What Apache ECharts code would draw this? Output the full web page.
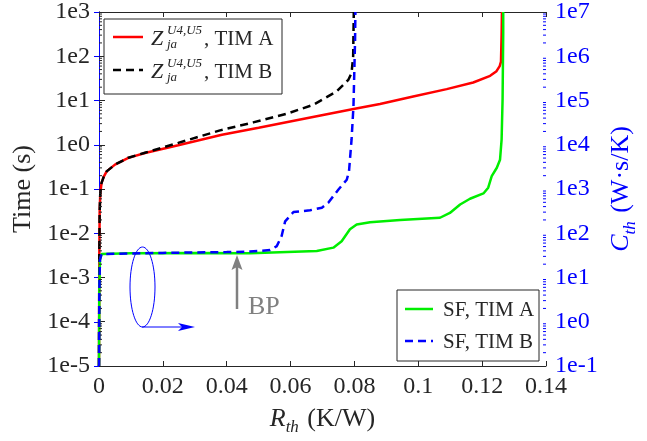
<html>
<head>
<meta charset="utf-8">
<title>Rth - time / Cth</title>
<script src="https://cdn.jsdelivr.net/npm/echarts@6/dist/echarts.min.js"></script>
</head>
<body style="margin:0">
<div id="main" style="width:647px;height:441px;"></div>
<script type="text/javascript">
// ---- data ----
var xTickLabels = ['0', '0.02', '0.04', '0.06', '0.08', '0.1', '0.12', '0.14'];
var leftTickLabels = ['1e-5', '1e-4', '1e-3', '1e-2', '1e-1', '1e0', '1e1', '1e2', '1e3'];
var rightTickLabels = ['1e-1', '1e0', '1e1', '1e2', '1e3', '1e4', '1e5', '1e6', '1e7'];

// Z_ja TIM A  [Rth, time]
var zTimA = [
  [0, 1e-5], [0.0001, 0.003], [0.0002, 0.03], [0.0004, 0.08], [0.0008, 0.138],
  [0.0015, 0.19], [0.0024, 0.25], [0.005, 0.356], [0.0092, 0.505], [0.0144, 0.653],
  [0.0248, 0.97], [0.0385, 1.69], [0.05, 2.43], [0.065, 3.96], [0.0797, 6.4],
  [0.088, 8.3], [0.0984, 12.3], [0.1089, 18.1], [0.1172, 25.5], [0.1225, 36.1],
  [0.1245, 46], [0.1255, 60], [0.1259, 75.9], [0.1261, 316], [0.1262, 1000]
];
// Z_ja TIM B  [Rth, time]
var zTimB = [
  [0, 1e-5], [0.0001, 0.003], [0.0002, 0.03], [0.0004, 0.08], [0.0008, 0.138],
  [0.0015, 0.19], [0.0024, 0.25], [0.005, 0.356], [0.0092, 0.51], [0.0144, 0.66],
  [0.0248, 1.10], [0.0379, 2.11], [0.0483, 3.2], [0.0588, 5.02], [0.0671, 8.0],
  [0.0744, 16.0], [0.0781, 29.4], [0.0791, 41.7], [0.0796, 100], [0.0798, 1000]
];
// SF TIM A  [Rth, Cth]
var sfTimA = [
  [0, 0.1], [0.0001, 5], [0.0003, 25], [0.0008, 34], [0.01, 35.5], [0.03, 35.8],
  [0.0473, 35.2], [0.0682, 39.8], [0.0734, 47.3], [0.076, 66], [0.0786, 123],
  [0.0807, 158], [0.0849, 178], [0.0943, 200], [0.1068, 224], [0.1099, 288],
  [0.1131, 447], [0.1162, 603], [0.1204, 794], [0.1219, 1070], [0.123, 1950],
  [0.1246, 3020], [0.1256, 4570], [0.1261, 13200], [0.1264, 105000],
  [0.1266, 3.3e6], [0.1266, 1e7]
];
// SF TIM B  [Rth, Cth]
var sfTimB = [
  [0, 0.1], [0.0001, 5], [0.0003, 25], [0.0008, 34], [0.02, 36], [0.04, 37.5],
  [0.0473, 38.5], [0.0536, 41.7], [0.0557, 51.3], [0.0572, 86.5], [0.0583, 186],
  [0.0609, 302], [0.0661, 331], [0.0698, 377], [0.0718, 490], [0.075, 977],
  [0.0776, 1620], [0.0783, 2500], [0.0791, 13000], [0.0797, 74000],
  [0.0802, 2.3e6], [0.0803, 1e7]
];

var FONT = 'Liberation Serif';
var INK = '#262626';
var BLUE = '#0000ff';

// minor ticks for the log axes (2..9 inside each decade)
function minorValues(labels) {
  var out = [];
  var e0 = parseInt(labels[0].slice(2), 10);
  for (var e = e0; e < e0 + labels.length - 1; e++) {
    for (var k = 2; k <= 9; k++) out.push(k * Math.pow(10, e));
  }
  return out;
}
function minorTickSeries(yIdx, xAt, dir, color, labels) {
  return {
    type: 'custom', xAxisIndex: 0, yAxisIndex: yIdx, silent: true, clip: false, z: 5,
    data: minorValues(labels).map(function (v) { return [xAt, v]; }),
    renderItem: function (params, api) {
      var p = api.coord([api.value(0), api.value(1)]);
      return { type: 'line', shape: { x1: p[0], y1: p[1], x2: p[0] + dir * 3, y2: p[1] },
               style: { stroke: color, lineWidth: 1 } };
    }
  };
}
function expLabel(labels) {
  var e0 = parseInt(labels[0].slice(2), 10);
  return function (v) { return labels[Math.round(Math.log10(v)) - e0]; };
}

var myChart = echarts.init(document.getElementById('main'));

var option = {
  animation: false,
  backgroundColor: '#fff',
  grid: { left: 99, right: 101, top: 12, bottom: 74 },
  xAxis: [{
    type: 'value', min: 0, max: 0.14, interval: 0.02,
    name: '{i|R}{s|th}{n| (K/W)}', nameLocation: 'middle', nameGap: 40,
    nameTextStyle: {
      rich: {
        i: { fontFamily: FONT, fontSize: 26, fontStyle: 'italic', color: INK, lineHeight: 26, verticalAlign: 'top' },
        s: { fontFamily: FONT, fontSize: 17, fontStyle: 'italic', color: INK, lineHeight: 17, padding: [13, 2, 0, 0], verticalAlign: 'top' },
        n: { fontFamily: FONT, fontSize: 26, color: INK, lineHeight: 26, verticalAlign: 'top' }
      }
    },
    axisLine: { lineStyle: { color: INK, width: 1 } },
    axisTick: { inside: true, length: 5, lineStyle: { color: INK } },
    axisLabel: { fontFamily: FONT, fontSize: 24, color: INK, margin: 9,
      formatter: function (v, i) { return xTickLabels[i]; } },
    splitLine: { show: false }
  }, {
    type: 'value', position: 'top', min: 0, max: 0.14, interval: 0.02,
    axisLine: { lineStyle: { color: INK, width: 1 } },
    axisTick: { inside: true, length: 5, lineStyle: { color: INK } },
    axisLabel: { show: false },
    splitLine: { show: false }
  }],
  yAxis: [{
    type: 'log', logBase: 10, min: 1e-5, max: 1e3, splitNumber: 8, position: 'left',
    name: 'Time (s)', nameLocation: 'middle', nameGap: 58, nameRotate: 90,
    nameTextStyle: { fontFamily: FONT, fontSize: 26, color: INK },
    axisLine: { show: true, lineStyle: { color: INK, width: 1 } },
    axisTick: { show: true, inside: true, length: 6, lineStyle: { color: INK } },
    axisLabel: { fontFamily: FONT, fontSize: 24, color: INK, margin: 9, formatter: expLabel(leftTickLabels) },
    splitLine: { show: false }
  }, {
    type: 'log', logBase: 10, min: 1e-1, max: 1e7, splitNumber: 8, position: 'right',
    name: '{i|C}{s|th}{n| (W\u00b7s/K)}', nameLocation: 'middle', nameGap: 60, nameRotate: 90,
    nameTextStyle: {
      rich: {
        i: { fontFamily: FONT, fontSize: 26, fontStyle: 'italic', color: BLUE, lineHeight: 26, verticalAlign: 'top' },
        s: { fontFamily: FONT, fontSize: 17, fontStyle: 'italic', color: BLUE, lineHeight: 17, padding: [13, 2, 0, 0], verticalAlign: 'top' },
        n: { fontFamily: FONT, fontSize: 26, color: BLUE, lineHeight: 26, verticalAlign: 'top' }
      }
    },
    axisLine: { show: true, lineStyle: { color: BLUE, width: 1 } },
    axisTick: { show: true, inside: true, length: 5, lineStyle: { color: BLUE } },
    axisLabel: { fontFamily: FONT, fontSize: 24, color: BLUE, margin: 9, formatter: expLabel(rightTickLabels) },
    splitLine: { show: false }
  }],
  series: [
    { name: 'Z TIM A', type: 'line', yAxisIndex: 0, data: zTimA, showSymbol: false,
      lineStyle: { color: '#ff0000', width: 2.5 }, z: 2 },
    { name: 'Z TIM B', type: 'line', yAxisIndex: 0, data: zTimB, showSymbol: false,
      lineStyle: { color: '#000000', width: 2.5, type: [8, 5] }, z: 3 },
    { name: 'SF TIM A', type: 'line', yAxisIndex: 1, data: sfTimA, showSymbol: false,
      lineStyle: { color: '#00ee00', width: 2.5 }, z: 4 },
    { name: 'SF TIM B', type: 'line', yAxisIndex: 1, data: sfTimB, showSymbol: false,
      lineStyle: { color: '#0000ff', width: 2.5, type: [8, 5] }, z: 5 },
    minorTickSeries(0, 0, 1, INK, leftTickLabels),
    minorTickSeries(1, 0.14, -1, BLUE, rightTickLabels)
  ],
  graphic: [
    // legend, upper left
    { type: 'rect', shape: { x: 104, y: 19, width: 178, height: 75 },
      style: { fill: '#fff', stroke: INK, lineWidth: 1 }, z: 20 },
    { type: 'line', shape: { x1: 113, y1: 37, x2: 143, y2: 37 }, style: { stroke: '#ff0000', lineWidth: 2.5 }, z: 21 },
    { type: 'line', shape: { x1: 113, y1: 70, x2: 143, y2: 70 }, style: { stroke: '#000', lineWidth: 2.5, lineDash: [8, 5] }, z: 21 },
    { type: 'text', x: 151, y: 39, z: 21, style: { text: 'Z', font: 'italic 22px ' + FONT, fill: INK, verticalAlign: 'middle' } },
    { type: 'text', x: 167, y: 31, z: 21, style: { text: 'U4,U5', font: 'italic 13px ' + FONT, fill: INK, verticalAlign: 'middle' } },
    { type: 'text', x: 167, y: 45, z: 21, style: { text: 'ja', font: 'italic 13px ' + FONT, fill: INK, verticalAlign: 'middle' } },
    { type: 'text', x: 204, y: 39, z: 21, style: { text: ', TIM A', font: '21px ' + FONT, fill: INK, verticalAlign: 'middle' } },
    { type: 'text', x: 151, y: 72, z: 21, style: { text: 'Z', font: 'italic 22px ' + FONT, fill: INK, verticalAlign: 'middle' } },
    { type: 'text', x: 167, y: 64, z: 21, style: { text: 'U4,U5', font: 'italic 13px ' + FONT, fill: INK, verticalAlign: 'middle' } },
    { type: 'text', x: 167, y: 78, z: 21, style: { text: 'ja', font: 'italic 13px ' + FONT, fill: INK, verticalAlign: 'middle' } },
    { type: 'text', x: 204, y: 72, z: 21, style: { text: ', TIM B', font: '21px ' + FONT, fill: INK, verticalAlign: 'middle' } },
    // legend, lower right
    { type: 'rect', shape: { x: 397, y: 290, width: 142, height: 71 },
      style: { fill: '#fff', stroke: INK, lineWidth: 1 }, z: 20 },
    { type: 'line', shape: { x1: 405, y1: 309, x2: 433, y2: 309 }, style: { stroke: '#00ee00', lineWidth: 2.5 }, z: 21 },
    { type: 'line', shape: { x1: 405, y1: 341, x2: 433, y2: 341 }, style: { stroke: '#0000ff', lineWidth: 2.5, lineDash: [8, 5] }, z: 21 },
    { type: 'text', x: 443, y: 310, z: 21, style: { text: 'SF, TIM A', font: '21px ' + FONT, fill: INK, verticalAlign: 'middle' } },
    { type: 'text', x: 443, y: 342, z: 21, style: { text: 'SF, TIM B', font: '21px ' + FONT, fill: INK, verticalAlign: 'middle' } },
    // ellipse + arrow pointing to the right axis
    { type: 'ellipse', shape: { cx: 142.5, cy: 287, rx: 12.5, ry: 40 }, style: { fill: 'none', stroke: BLUE, lineWidth: 1 }, z: 10 },
    { type: 'line', shape: { x1: 142, y1: 327, x2: 185, y2: 327 }, style: { stroke: BLUE, lineWidth: 1 }, z: 10 },
    { type: 'polygon', shape: { points: [[195, 327], [178, 323], [182, 327], [178, 331]] }, style: { fill: BLUE }, z: 10 },
    // BP arrow
    { type: 'line', shape: { x1: 237, y1: 309, x2: 237, y2: 266 }, style: { stroke: '#808080', lineWidth: 2.5 }, z: 10 },
    { type: 'polygon', shape: { points: [[237, 255], [231.5, 270], [237, 267], [242.5, 270]] }, style: { fill: '#808080' }, z: 10 },
    { type: 'text', x: 248, y: 307, z: 10, style: { text: 'BP', font: '26px ' + FONT, fill: '#808080', verticalAlign: 'middle' } }
  ]
};
myChart.setOption(option);
</script>
</body>
</html>
